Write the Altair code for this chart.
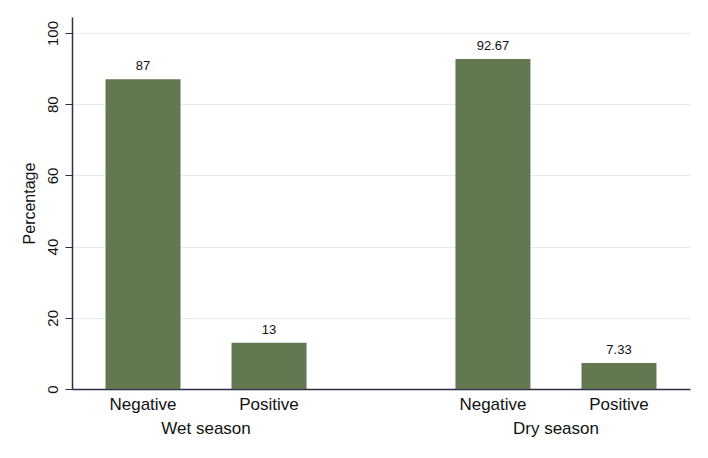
import altair as alt
import pandas as pd

# values
seasons = ["Wet season", "Wet season", "Dry season", "Dry season"]
results = ["Negative", "Positive", "Negative", "Positive"]
percent = [87, 13, 92.67, 7.33]
value_text = ["87", "13", "92.67", "7.33"]
season_order = ["Wet season", "Dry season"]
result_order = ["Negative", "Positive"]
y_ticks = [0, 20, 40, 60, 80, 100]

df = pd.DataFrame({
    "season": seasons,
    "result": results,
    "percent": percent,
    "label": value_text,
})

BAR = "#617850"
AXIS = "#2e2e4a"
FONT = "Liberation Sans"
W, H = 618, 372

x = alt.X(
    "season:N", sort=season_order, title=None,
    scale=alt.Scale(paddingInner=0.234, paddingOuter=0),
    axis=alt.Axis(labelAngle=0, labelFontSize=17, labelColor="#111111",
                  labelPadding=31, ticks=False, grid=False,
                  domainColor=AXIS, domainWidth=1.5),
)
xo = alt.XOffset("result:N", sort=result_order,
                 scale=alt.Scale(paddingInner=0.405, paddingOuter=0.266))
y = alt.Y(
    "percent:Q", title="Percentage",
    scale=alt.Scale(domain=[0, 104.5], nice=False),
    axis=alt.Axis(values=y_ticks, labelAngle=270, labelAlign="center",
                  labelBaseline="bottom", labelPadding=5, labelFontSize=15,
                  labelColor="#111111", tickSize=7, tickColor=AXIS,
                  domainColor=AXIS, domainWidth=1.5, titleFontSize=16,
                  titleFontWeight="normal", titleColor="#111111",
                  titlePadding=8, grid=True, gridColor="#e4ecf2"),
)

base = alt.Chart(df).encode(x=x, xOffset=xo)

bars = base.mark_bar(color=BAR).encode(y=y)

values = base.mark_text(baseline="bottom", dy=-6, fontSize=13,
                        font=FONT, color="#111111").encode(y=y, text="label:N")

names = base.mark_text(baseline="middle", dy=16, fontSize=17,
                       font=FONT, color="#111111").encode(
    y=alt.value(H), text="result:N")

chart = (
    alt.layer(bars, values, names)
    .properties(width=W, height=H, background="white",
                autosize=alt.AutoSizeParams(type="none"),
                padding={"left": 64, "top": 9, "right": 10, "bottom": 60})
    .configure_view(stroke=None)
    .configure_axis(labelFont=FONT, titleFont=FONT)
)

chart.save("out.html", embed_options={"renderer": "svg", "actions": False})
